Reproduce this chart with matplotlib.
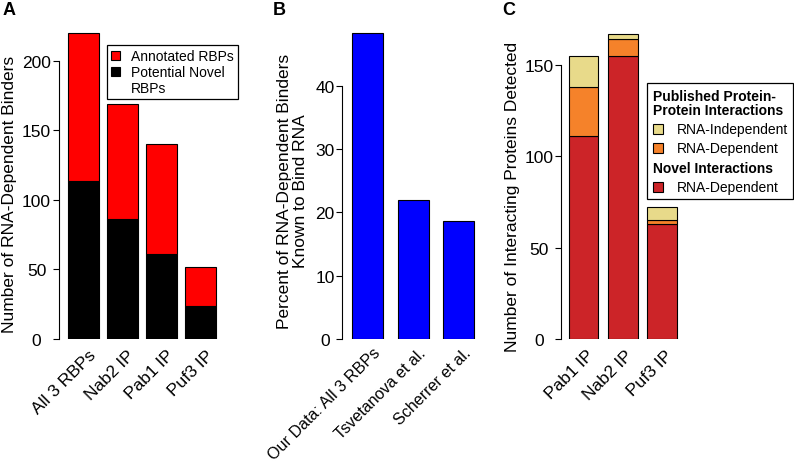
import numpy as np
import matplotlib
matplotlib.use('Agg')
import matplotlib.pyplot as plt
from matplotlib.patches import Patch, Rectangle
from matplotlib.offsetbox import VPacker, HPacker, TextArea, DrawingArea, AnchoredOffsetbox

plt.rcParams['font.family'] = ['Liberation Sans', 'DejaVu Sans']

# panel A data
a_groups = ['All 3 RBPs', 'Nab2 IP', 'Pab1 IP', 'Puf3 IP']
a_novel = [114, 86, 61, 24]
a_annotated = [106, 83, 79, 28]

# panel B data
b_sources = ['Our Data: All 3 RBPs', 'Tsvetanova et al.', 'Scherrer et al.']
b_percent = [48.4, 21.9, 18.7]

# panel C data
c_ips = ['Pab1 IP', 'Nab2 IP', 'Puf3 IP']
c_novel_dep = [111, 155, 63]
c_pub_dep = [27, 9, 2]
c_pub_indep = [17, 3, 7]

W, H = 794, 464
FS = 12.5
fig = plt.figure(figsize=(W / 100, H / 100), dpi=100)


def px_axes(left, top, width, height):
    return fig.add_axes([left / W, 1 - (top + height) / H, width / W, height / H])


def style(ax, yticks, pad, xpad=9.4):
    for s in ['top', 'right', 'bottom']:
        ax.spines[s].set_visible(False)
    ax.spines['left'].set_bounds(yticks[0], yticks[-1])
    ax.spines['left'].set_linewidth(0.8)
    ax.set_yticks(yticks, [str(t) for t in yticks], ha='center')
    ax.tick_params(axis='y', direction='out', length=4, width=0.8, labelsize=FS, pad=pad)
    ax.tick_params(axis='x', length=0, labelsize=FS, pad=xpad)


def xlabels(ax, n, labels, shift, size=FS):
    ax.set_xticks(np.arange(n) + shift, labels, rotation=45, ha='right', va='center',
                  rotation_mode='anchor', fontsize=size)


# ---- A ----
axA = px_axes(59, 30, 165, 310)
xa = np.arange(len(a_groups))
axA.bar(xa, a_novel, width=0.795, color='black', edgecolor='black', lw=0.8)
axA.bar(xa, a_annotated, bottom=a_novel, width=0.795, color='#FF0000', edgecolor='black', lw=0.8)
axA.set_xlim(-0.628, 3.603)
axA.set_ylim(0, 223)
style(axA, [0, 50, 100, 150, 200], 12.2)
xlabels(axA, len(a_groups), a_groups, 0.26)
axA.set_ylabel('Number of RNA-Dependent Binders', fontsize=FS)
axA.yaxis.set_label_coords(-0.303, 0.471)
axA.yaxis.label.set_va('center')
handles = [Patch(facecolor='#FF0000', edgecolor='black', lw=0.8),
           Patch(facecolor='black', edgecolor='black', lw=0.8),
           Patch(visible=False)]
legA = axA.legend(handles, ['Annotated RBPs', 'Potential Novel', 'RBPs'], loc='upper left',
                  bbox_to_anchor=(107 / W, 1 - 46 / H), bbox_transform=fig.transFigure,
                  borderaxespad=0, fontsize=10, handlelength=0.65, handleheight=0.65,
                  handletextpad=0.75, labelspacing=0.14, borderpad=0.3, fancybox=False,
                  framealpha=1, edgecolor='black')
legA.get_frame().set_linewidth(0.9)

# ---- B ----
axB = px_axes(341.7, 30, 144.4, 310)
xb = np.arange(len(b_sources))
axB.bar(xb, b_percent, width=0.68, color='#0000FF', edgecolor='black', lw=0.8)
axB.set_xlim(-0.574, 2.6)
axB.set_ylim(0, 48.97)
style(axB, [0, 10, 20, 30, 40], 8, xpad=7.8)
xlabels(axB, len(b_sources), b_sources, 0.22, size=11.6)
axB.set_ylabel('Percent of RNA-Dependent Binders\nKnown to Bind RNA', fontsize=FS, linespacing=1.05)
axB.yaxis.set_label_coords(-0.339, 0.48)
axB.yaxis.label.set_va('center')

# ---- C ----
c_red, c_orange, c_yellow = '#CC2428', '#F5822A', '#E8DA8A'
axC = px_axes(560.7, 30, 124.7, 310)
xc = np.arange(len(c_ips))
bot2 = np.array(c_novel_dep) + np.array(c_pub_dep)
axC.bar(xc, c_novel_dep, width=0.765, color=c_red, edgecolor='black', lw=0.8)
axC.bar(xc, c_pub_dep, bottom=c_novel_dep, width=0.765, color=c_orange, edgecolor='black', lw=0.8)
axC.bar(xc, c_pub_indep, bottom=bot2, width=0.765, color=c_yellow, edgecolor='black', lw=0.8)
axC.set_xlim(-0.582, 2.6)
axC.set_ylim(0, 169.5)
style(axC, [0, 50, 100, 150], 11.6)
xlabels(axC, len(c_ips), c_ips, 0.2)
axC.set_ylabel('Number of Interacting Proteins Detected', fontsize=FS)
axC.yaxis.set_label_coords(-0.39, 0.461)
axC.yaxis.label.set_va('center')


def swatch(color):
    da = DrawingArea(7.2, 7.2, 0, 0)
    da.add_artist(Rectangle((0, 0), 7.2, 7.2, facecolor=color, edgecolor='black', lw=0.8))
    return da


def entry(color, text):
    return HPacker(children=[swatch(color), TextArea(text, textprops=dict(size=10))],
                   align='center', pad=0, sep=10)


bold = dict(size=10, weight='bold')
rows = [TextArea('Published Protein-\nProtein Interactions', textprops=dict(linespacing=1.05, **bold)),
        entry(c_yellow, 'RNA-Independent'),
        entry(c_orange, 'RNA-Dependent'),
        TextArea('Novel Interactions', textprops=bold),
        entry(c_red, 'RNA-Dependent')]
vp = VPacker(children=rows, align='left', pad=0, sep=3.7)
legC = AnchoredOffsetbox(loc='upper left', child=vp, pad=0.4, borderpad=0, frameon=True,
                         prop=dict(size=10), bbox_to_anchor=(647 / W, 1 - 84 / H),
                         bbox_transform=fig.transFigure)
legC.patch.set_boxstyle('square', pad=0)
legC.patch.set_edgecolor('black')
legC.patch.set_linewidth(0.9)
axC.add_artist(legC)

# panel letters
for x, s in [(3, 'A'), (273, 'B'), (502, 'C')]:
    fig.text(x / W, 1 - 2 / H, s, fontsize=13, weight='bold', ha='left', va='top')

fig.savefig('out.png', dpi=100)
